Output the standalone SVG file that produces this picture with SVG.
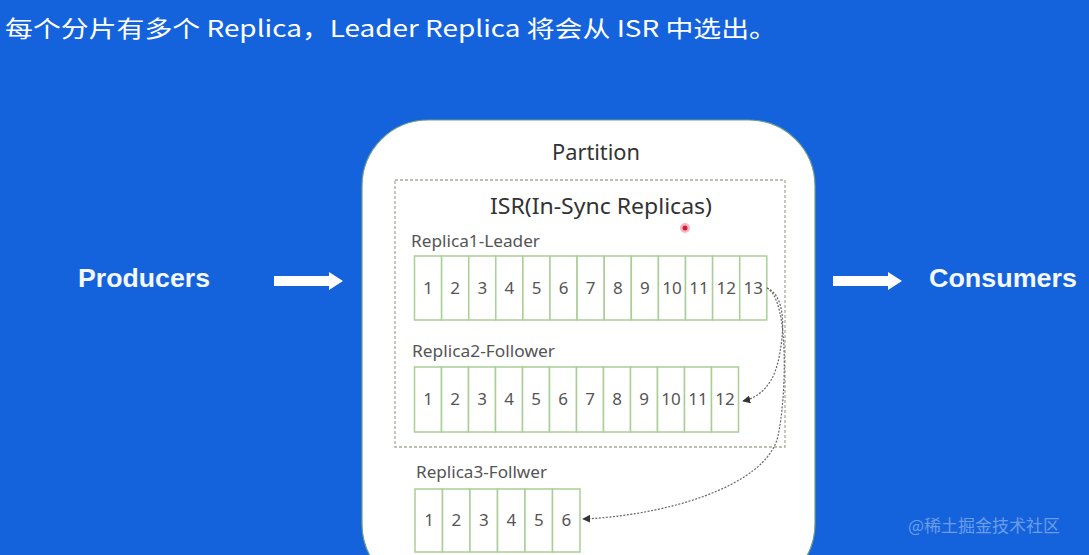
<svg xmlns="http://www.w3.org/2000/svg" width="1089" height="555" viewBox="0 0 1089 555">
<defs>
<style>
.bg{fill:#1463dc}
.title{font-family:"Noto Sans CJK SC","Noto Sans",sans-serif;font-size:23px;fill:#ffffff}
.side{font-family:"Liberation Sans",Arial,sans-serif;font-weight:bold;font-size:26px;fill:#f4f8ff}
.head{font-family:"Noto Sans","Liberation Sans",sans-serif;font-size:22px;fill:#333333}
.lbl{font-family:"Noto Sans","Liberation Sans",sans-serif;font-size:15.5px;fill:#555555}
.cell{fill:#ffffff;stroke:#a9cf96;stroke-width:1.5}
.num{font-family:"Noto Sans","Liberation Sans",sans-serif;font-size:17px;fill:#555555;text-anchor:middle}
.conn{fill:none;stroke:#666666;stroke-width:1.2;stroke-dasharray:2 1.5}
.wm{font-family:"Noto Sans CJK SC",sans-serif;font-size:17px;fill:#ffffff;fill-opacity:0.38}
</style>
<marker id="ah" viewBox="0 0 10 10" refX="9" refY="5" markerWidth="8" markerHeight="8" markerUnits="userSpaceOnUse" orient="auto">
<path d="M0,0 L10,5 L0,10 z" fill="#333333"/>
</marker>
<symbol id="bigarrow" overflow="visible">
<path d="M0,-5 L55,-5 L55,-9 L69,0 L55,9 L55,5 L0,5 z" fill="#ffffff"/>
</symbol>
</defs>
<rect class="bg" x="0" y="0" width="1089" height="555"/>
<text class="title" x="5" y="37" textLength="772" lengthAdjust="spacingAndGlyphs">每个分片有多个 Replica，Leader Replica 将会从 ISR 中选出。</text>

<g id="producers">
<text class="side" x="78" y="287" textLength="132" lengthAdjust="spacingAndGlyphs">Producers</text>
</g>
<g id="consumers">
<text class="side" x="929" y="287" textLength="148" lengthAdjust="spacingAndGlyphs">Consumers</text>
</g>

<g id="partition">
<rect x="362" y="120" width="453" height="470" rx="66" ry="66" fill="#ffffff" stroke="#6f9f86" stroke-width="1.2"/>
<text class="head" x="596" y="160" text-anchor="middle" textLength="88" lengthAdjust="spacingAndGlyphs">Partition</text>
</g>

<g id="isr">
<rect x="395" y="180" width="390" height="267" fill="none" stroke="#a3ad98" stroke-width="1.3" stroke-dasharray="3 2"/>
<text class="head" x="601" y="214" text-anchor="middle" font-size="24" textLength="222" lengthAdjust="spacingAndGlyphs">ISR(In-Sync Replicas)</text>
</g>

<g id="replica1">
<text class="lbl" x="411" y="247" textLength="129" lengthAdjust="spacingAndGlyphs">Replica1-Leader</text>
<rect class="cell" x="414.5" y="256" width="27.1" height="64"/>
<rect class="cell" x="441.6" y="256" width="27.1" height="64"/>
<rect class="cell" x="468.7" y="256" width="27.1" height="64"/>
<rect class="cell" x="495.8" y="256" width="27.1" height="64"/>
<rect class="cell" x="522.9" y="256" width="27.1" height="64"/>
<rect class="cell" x="550.0" y="256" width="27.1" height="64"/>
<rect class="cell" x="577.1" y="256" width="27.1" height="64"/>
<rect class="cell" x="604.2" y="256" width="27.1" height="64"/>
<rect class="cell" x="631.3" y="256" width="27.1" height="64"/>
<rect class="cell" x="658.4" y="256" width="27.1" height="64"/>
<rect class="cell" x="685.5" y="256" width="27.1" height="64"/>
<rect class="cell" x="712.6" y="256" width="27.1" height="64"/>
<rect class="cell" x="739.7" y="256" width="27.1" height="64"/>
<text class="num" x="428" y="294">1</text>
<text class="num" x="455.2" y="294">2</text>
<text class="num" x="482.3" y="294">3</text>
<text class="num" x="509.4" y="294">4</text>
<text class="num" x="536.5" y="294">5</text>
<text class="num" x="563.6" y="294">6</text>
<text class="num" x="590.7" y="294">7</text>
<text class="num" x="617.8" y="294">8</text>
<text class="num" x="644.9" y="294">9</text>
<text class="num" x="672" y="294">10</text>
<text class="num" x="699.1" y="294">11</text>
<text class="num" x="726.2" y="294">12</text>
<text class="num" x="753.3" y="294">13</text>
</g>

<g id="replica2">
<text class="lbl" x="412" y="357" textLength="143" lengthAdjust="spacingAndGlyphs">Replica2-Follower</text>
<rect class="cell" x="414.5" y="367" width="27" height="65"/>
<rect class="cell" x="441.5" y="367" width="27" height="65"/>
<rect class="cell" x="468.5" y="367" width="27" height="65"/>
<rect class="cell" x="495.5" y="367" width="27" height="65"/>
<rect class="cell" x="522.5" y="367" width="27" height="65"/>
<rect class="cell" x="549.5" y="367" width="27" height="65"/>
<rect class="cell" x="576.5" y="367" width="27" height="65"/>
<rect class="cell" x="603.5" y="367" width="27" height="65"/>
<rect class="cell" x="630.5" y="367" width="27" height="65"/>
<rect class="cell" x="657.5" y="367" width="27" height="65"/>
<rect class="cell" x="684.5" y="367" width="27" height="65"/>
<rect class="cell" x="711.5" y="367" width="27" height="65"/>
<text class="num" x="428" y="405">1</text>
<text class="num" x="455" y="405">2</text>
<text class="num" x="482" y="405">3</text>
<text class="num" x="509" y="405">4</text>
<text class="num" x="536" y="405">5</text>
<text class="num" x="563" y="405">6</text>
<text class="num" x="590" y="405">7</text>
<text class="num" x="617" y="405">8</text>
<text class="num" x="644" y="405">9</text>
<text class="num" x="671" y="405">10</text>
<text class="num" x="698" y="405">11</text>
<text class="num" x="725" y="405">12</text>
</g>

<g id="replica3">
<text class="lbl" x="416" y="478" textLength="131" lengthAdjust="spacingAndGlyphs">Replica3-Follwer</text>
<rect class="cell" x="415" y="489" width="27.5" height="63"/>
<rect class="cell" x="442.5" y="489" width="27.5" height="63"/>
<rect class="cell" x="470" y="489" width="27.5" height="63"/>
<rect class="cell" x="497.5" y="489" width="27.5" height="63"/>
<rect class="cell" x="525" y="489" width="27.5" height="63"/>
<rect class="cell" x="552.5" y="489" width="27.5" height="63"/>
<text class="num" x="429" y="526">1</text>
<text class="num" x="456.3" y="526">2</text>
<text class="num" x="483.8" y="526">3</text>
<text class="num" x="511.3" y="526">4</text>
<text class="num" x="538.8" y="526">5</text>
<text class="num" x="566.3" y="526">6</text>
</g>

<g id="connectors">
<use href="#bigarrow" x="274" y="281"/>
<use href="#bigarrow" x="833" y="281"/>
<path class="conn" d="M767,288 C786,296 784,330 780,352 C776,378 765,396 743,401" marker-end="url(#ah)"/>
<path class="conn" d="M767,288 C790,300 786,400 778,436 C766,488 660,516 583,519" marker-end="url(#ah)"/>
</g>

<circle cx="685" cy="228" r="5" fill="#f08a9a" fill-opacity="0.6"/>
<circle cx="685" cy="228" r="2.5" fill="#d81b3c"/>

<text class="wm" x="908" y="532">@稀土掘金技术社区</text>
</svg>
